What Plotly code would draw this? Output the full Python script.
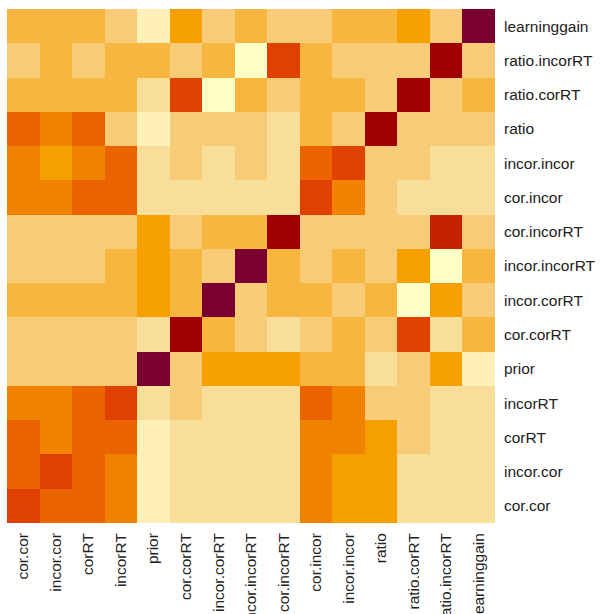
import plotly.graph_objects as go

# variable names, in matrix order (first = bottom row / left column)
variables = [
    "cor.cor", "incor.cor", "corRT", "incorRT", "prior",
    "cor.corRT", "incor.corRT", "incor.incorRT", "cor.incorRT",
    "cor.incor", "incor.incor", "ratio", "ratio.corRT",
    "ratio.incorRT", "learninggain",
]

# colour bins, light to dark
palette = [
    "#FFFFC8", "#FFF1B8", "#F9DE9A", "#F8CB78", "#F7B640", "#F5A000",
    "#F28300", "#EB6400", "#E04000", "#C42200", "#A00000", "#7A0030",
]

# binned (row-scaled) values per variable, one row each, columns in variable order
cor_cor       = [8, 7, 7, 6, 1, 2, 2, 2, 2, 6, 5, 5, 2, 2, 2]
incor_cor     = [7, 8, 7, 6, 1, 2, 2, 2, 2, 6, 5, 5, 2, 2, 2]
corRT         = [7, 6, 7, 7, 1, 2, 2, 2, 2, 6, 6, 5, 3, 2, 2]
incorRT       = [6, 6, 7, 8, 2, 3, 2, 2, 2, 7, 6, 3, 3, 2, 2]
prior         = [3, 3, 3, 3, 11, 3, 5, 5, 5, 4, 4, 2, 3, 5, 1]
cor_corRT     = [3, 3, 3, 3, 2, 10, 4, 3, 2, 3, 4, 3, 8, 2, 4]
incor_corRT   = [4, 4, 4, 4, 5, 4, 11, 3, 4, 4, 3, 4, 0, 5, 3]
incor_incorRT = [3, 3, 3, 4, 5, 4, 3, 11, 4, 3, 4, 3, 5, 0, 4]
cor_incorRT   = [3, 3, 3, 3, 5, 3, 4, 4, 10, 3, 3, 3, 3, 9, 3]
cor_incor     = [6, 6, 7, 7, 2, 2, 2, 2, 2, 8, 6, 3, 2, 2, 2]
incor_incor   = [6, 5, 6, 7, 2, 3, 2, 3, 2, 7, 8, 3, 3, 2, 2]
ratio         = [7, 6, 7, 3, 1, 3, 3, 3, 2, 4, 3, 10, 3, 3, 3]
ratio_corRT   = [4, 4, 4, 4, 2, 8, 0, 4, 3, 4, 4, 3, 10, 3, 4]
ratio_incorRT = [3, 4, 3, 4, 4, 3, 4, 0, 8, 4, 3, 3, 3, 10, 3]
learninggain  = [4, 4, 4, 3, 1, 5, 3, 4, 3, 3, 4, 4, 5, 3, 11]

z = [
    cor_cor, incor_cor, corRT, incorRT, prior, cor_corRT, incor_corRT,
    incor_incorRT, cor_incorRT, cor_incor, incor_incor, ratio,
    ratio_corRT, ratio_incorRT, learninggain,
]

n = len(palette)
colorscale = [[i / (n - 1), c] for i, c in enumerate(palette)]

fig = go.Figure(
    go.Heatmap(
        z=z,
        x=variables,
        y=variables,
        colorscale=colorscale,
        zmin=0,
        zmax=n - 1,
        showscale=False,
        xgap=0,
        ygap=0,
        hoverongaps=False,
    )
)

label_font = dict(family="Liberation Sans, Arial, sans-serif", size=15.5, color="#222222")

fig.update_layout(
    width=605,
    height=614,
    margin=dict(l=7, r=110, t=9, b=91),
    paper_bgcolor="white",
    plot_bgcolor="white",
    xaxis=dict(
        tickangle=-90,
        tickfont=label_font,
        ticks="",
        showgrid=False,
        zeroline=False,
        showline=False,
        automargin=False,
        ticklabelstandoff=6,
    ),
    yaxis=dict(
        side="right",
        tickfont=label_font,
        ticks="",
        showgrid=False,
        zeroline=False,
        showline=False,
        automargin=False,
        ticklabelstandoff=8,
    ),
)

fig.write_html("out.html")
